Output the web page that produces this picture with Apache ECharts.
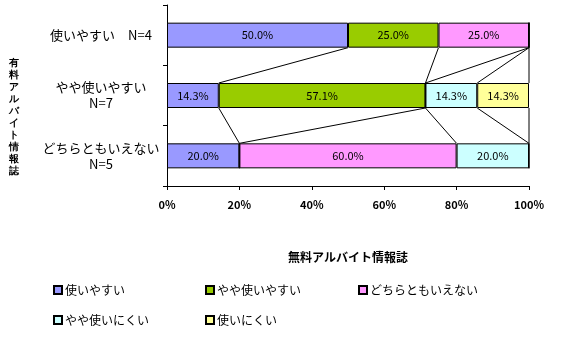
<!DOCTYPE html>
<html><head><meta charset="utf-8">
<script src="https://cdn.jsdelivr.net/npm/echarts@6/dist/echarts.min.js"></script>
<style>html,body{margin:0;padding:0;background:#fff}#c{width:567px;height:347px}</style>
</head><body><div id="c"></div>
<script>
var categories = ['使いやすい　N=4', 'やや使いやすい\nN=7', 'どちらともいえない\nN=5'];
var seriesNames = ['使いやすい', 'やや使いやすい', 'どちらともいえない', 'やや使いにくい', '使いにくい'];
var seriesColors = ['#9999FF', '#99CC00', '#FF99FF', '#CCFFFF', '#FFFF99'];
var s1 = [50.0, 14.3, 20.0];
var s2 = [25.0, 57.1, 0];
var s3 = [25.0, 0, 60.0];
var s4 = [0, 14.3, 20.0];
var s5 = [0, 14.3, 0];
var xTicks = [0, 20, 40, 60, 80, 100];
var xTitle = '無料アルバイト情報誌';
var yTitle = '有料アルバイト情報誌';

var values = [s1, s2, s3, s4, s5];
var FONT = '"Noto Sans CJK JP", "Noto Sans", sans-serif';
var BAR_W = 25;

// cumulative end of series k in row i
function cumEnd(i, k) {
  var s = 0;
  for (var j = 0; j <= k; j++) s += values[j][i];
  return s;
}
var lineData = [];
for (var k = 0; k < values.length; k++) {
  for (var i = 0; i < categories.length - 1; i++) {
    lineData.push([cumEnd(i, k), i, cumEnd(i + 1, k), i + 1]);
  }
}

var series = values.map(function (v, idx) {
  return {
    name: seriesNames[idx], type: 'bar', stack: 'total', barWidth: BAR_W,
    data: v,
    itemStyle: { color: seriesColors[idx], borderColor: '#000', borderWidth: 1 },
    label: {
      show: true, position: 'inside', color: '#000', fontSize: 11, fontFamily: FONT,
      formatter: function (p) { return p.value > 0 ? p.value.toFixed(1) + '%' : ''; }
    },
    emphasis: { disabled: true }
  };
});
series.push({
  type: 'custom', name: 'serieslines', silent: true,
  data: lineData,
  encode: { x: [0, 2], y: [1, 3] },
  renderItem: function (params, api) {
    var a = api.coord([api.value(0), api.value(1)]);
    var b = api.coord([api.value(2), api.value(3)]);
    return {
      type: 'line',
      shape: { x1: a[0], y1: a[1] + BAR_W / 2, x2: b[0], y2: b[1] - BAR_W / 2 },
      style: { stroke: '#000', lineWidth: 1 }
    };
  }
});

var legendPos = [[53, 284], [205, 284], [358, 284], [53, 314], [205, 314]];
var legends = seriesNames.map(function (n, idx) {
  return {
    data: [n], left: legendPos[idx][0], top: legendPos[idx][1], padding: 0,
    icon: 'rect', itemWidth: 8, itemHeight: 8, selectedMode: false,
    textStyle: { fontSize: 12, color: '#000', fontFamily: FONT, padding: [0, 0, 0, -2] }
  };
});

var chart = echarts.init(document.getElementById('c'), null, { renderer: 'canvas' });
chart.setOption({
  animation: false,
  backgroundColor: '#fff',
  textStyle: { fontFamily: FONT },
  grid: { left: 167, right: 38, top: 5, bottom: 161, containLabel: false },
  xAxis: {
    type: 'value', min: 0, max: 100, interval: 20,
    name: xTitle, nameLocation: 'middle', nameGap: 65,
    nameTextStyle: { fontSize: 12, fontWeight: 'bold', color: '#000', fontFamily: FONT },
    axisLine: { show: true, lineStyle: { color: '#000', width: 1 } },
    axisTick: { show: true, length: 4, lineStyle: { color: '#000' } },
    axisLabel: { color: '#000', fontSize: 11, fontWeight: 'bold', margin: 13, fontFamily: FONT,
      formatter: function (v) { return xTicks.indexOf(v) >= 0 ? v + '%' : ''; } },
    splitLine: { show: false }
  },
  yAxis: {
    type: 'category', data: categories, inverse: true,
    axisLine: { show: true, lineStyle: { color: '#000', width: 1 } },
    axisTick: { show: true, length: 4, lineStyle: { color: '#000' } },
    axisLabel: { color: '#000', fontSize: 13, align: 'center', margin: 66, lineHeight: 16, fontFamily: FONT }
  },
  legend: legends,
  graphic: [{
    type: 'text', left: 9, top: 57,
    style: { text: yTitle.split('').join('\n'), fontSize: 10, fontWeight: 'bold', lineHeight: 12,
      fill: '#000', font: 'bold 10px ' + FONT, align: 'center' }
  }],
  series: series
});
</script></body></html>
